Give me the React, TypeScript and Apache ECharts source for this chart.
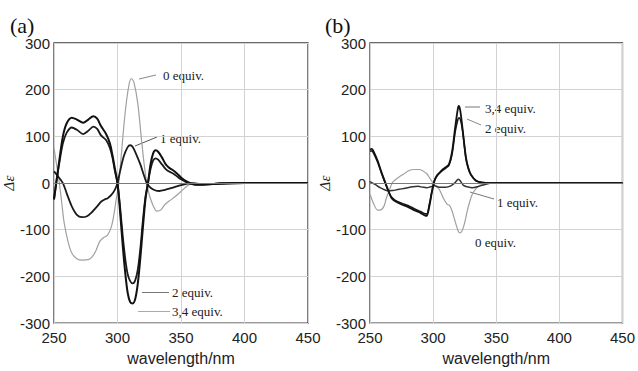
import React, { useEffect, useRef } from "react";
import * as echarts from "echarts";

// ---- Panel (a) : [wavelength (nm), Δε] ----
const aEquiv0 = [
  [250, 75], [252, 40], [254, 5], [256, -40], [258, -85], [261, -125], [264, -150], [268, -162],
  [272, -165], [277, -164], [280, -158], [283, -145], [286, -125], [289, -117], [292, -112],
  [295, -95], [297, -70], [299, -35], [301, 0], [303, 60], [306, 150], [309, 210], [311, 224],
  [313, 215], [316, 170], [319, 90], [321, 40], [323, 0], [325, -25], [328, -48], [331, -60],
  [334, -58], [337, -47], [341, -38], [345, -30], [350, -18], [355, -6], [358, -2], [362, -2],
  [370, -3], [380, -1], [400, 0], [450, 0],
];
const aEquiv1 = [
  [250, 25], [253, 15], [257, 0], [260, -22], [264, -50], [268, -68], [272, -73], [276, -71],
  [280, -62], [284, -50], [287, -40], [290, -35], [292, -33], [295, -26], [298, -14], [300, 0],
  [302, 25], [305, 58], [308, 77], [310, 81], [312, 77], [315, 60], [318, 40], [321, 15], [323, 0],
  [326, -10], [330, -16], [333, -17], [337, -15], [342, -11], [348, -6], [355, -1], [360, 0],
  [365, -2], [375, -2], [390, 0], [450, 0],
];
const aEquiv2 = [
  [250, -35], [251, -15], [252, 5], [254, 40], [257, 85], [260, 108], [264, 119], [268, 114],
  [273, 105], [277, 112], [281, 121], [284, 116], [287, 102], [291, 92], [294, 75], [296, 55],
  [298, 25], [300, 0], [302, -50], [304, -110], [306, -160], [308, -195], [310, -210], [312, -215],
  [314, -208], [316, -185], [318, -140], [320, -80], [322, -30], [324, 0], [326, 30], [328, 48],
  [330, 53], [332, 50], [335, 40], [338, 30], [341, 24], [344, 20], [347, 14], [350, 8], [354, 2],
  [358, -2], [362, -4], [370, -3], [380, -1], [400, 0], [450, 0],
];
const aEquiv34 = [
  [250, -35], [251, -15], [252, 5], [254, 45], [257, 100], [260, 128], [264, 140], [268, 136],
  [273, 129], [277, 136], [281, 143], [284, 138], [287, 122], [291, 105], [294, 85], [296, 60],
  [298, 30], [300, 0], [302, -60], [304, -130], [306, -190], [308, -235], [310, -255], [312, -258],
  [314, -248], [316, -215], [318, -160], [320, -95], [322, -35], [324, 0], [326, 40], [328, 63],
  [330, 70], [332, 67], [335, 55], [338, 40], [341, 32], [344, 27], [347, 20], [350, 12], [354, 4],
  [358, -1], [362, -3], [370, -3], [380, -1], [400, 0], [450, 0],
];

// ---- Panel (b) ----
const bEquiv0 = [
  [250, -24], [253, -45], [256, -58], [258, -58], [261, -50], [263, -32], [266, -10], [268, 2],
  [270, 7], [273, 13], [277, 20], [281, 27], [285, 29], [289, 29], [292, 26], [295, 20], [297, 12],
  [300, 0], [302, -6], [305, -14], [308, -32], [311, -45], [313, -48], [315, -60], [317, -78],
  [319, -96], [321, -107], [323, -102], [325, -85], [327, -60], [329, -40], [331, -24], [334, -12],
  [337, -5], [341, -1], [345, 0], [450, 0],
];
const bEquiv1 = [
  [250, 3], [254, -3], [258, -10], [262, -15], [265, -17], [268, -16], [272, -14], [278, -11],
  [284, -8], [288, -7], [292, -9], [295, -10], [298, -8], [301, -6], [305, -9], [310, -9],
  [314, -6], [317, 0], [320, 8], [322, 3], [324, -5], [327, -8], [331, -10], [335, -8], [341, -3],
  [347, 0], [450, 0],
];
const bEquiv2 = [
  [250, 68], [251.5, 69], [253, 63], [256, 45], [259, 22], [262, 0], [264.5, -17], [267, -30],
  [270, -37], [275, -43], [280, -48], [285, -55], [290, -61], [294, -66], [295, -66], [297, -46],
  [299, -18], [301, 5], [303, 15], [305, 21], [308, 28], [310, 32], [312.5, 38], [315, 62],
  [317.5, 110], [319.5, 135], [320.5, 140], [322, 132], [323.5, 108], [326, 52], [328, 30],
  [330, 17], [334, 5], [339, 1], [345, 0], [450, 0],
];
const bEquiv34 = [
  [250, 72], [251.5, 73], [253, 67], [256, 48], [259, 24], [262, 2], [264.5, -16], [267, -32],
  [270, -39], [275, -46], [280, -51], [285, -58], [290, -64], [294, -70], [295, -70], [297, -50],
  [299, -20], [301, 4], [303, 16], [305, 22], [308, 30], [310, 34], [312.5, 40], [315, 67],
  [317.5, 120], [319.5, 158], [320.3, 165], [321.5, 155], [323.5, 112], [326, 55], [328, 31],
  [330, 18], [334, 5], [339, 1], [345, 0], [450, 0],
];

const xTicks = { min: 250, max: 450, interval: 50 };
const yTicks = { min: -300, max: 300, interval: 100 };

const SANS = "'Liberation Sans', Arial, Helvetica, sans-serif";
const SERIF = "'Liberation Serif', 'Times New Roman', Times, serif";

export default function App() {
  const ref = useRef<HTMLDivElement>(null);
  useEffect(() => {
    const chart = echarts.init(ref.current!, null, { renderer: "svg" });

    const gridBase = {
      top: 43,
      width: 254,
      height: 287,
      show: true,
      borderColor: "#3a3a3a",
      borderWidth: 1.3,
      backgroundColor: "transparent",
    };

    const mkX = (i: number) => ({
      type: "value",
      gridIndex: i,
      ...xTicks,
      axisLine: { show: false },
      axisTick: { show: false },
      splitLine: { show: true, lineStyle: { color: "#d2d2d2", width: 1 } },
      axisLabel: { fontFamily: SANS, fontSize: 15, color: "#222", margin: 7 },
      name: "wavelength/nm",
      nameLocation: "middle",
      nameGap: 24,
      nameTextStyle: { fontFamily: SANS, fontSize: 16, color: "#222" },
    });
    const mkY = (i: number, gap: number) => ({
      type: "value",
      gridIndex: i,
      ...yTicks,
      axisLine: { show: false },
      axisTick: { show: false },
      splitLine: { show: true, lineStyle: { color: "#d2d2d2", width: 1 } },
      axisLabel: { fontFamily: SANS, fontSize: 15, color: "#222", margin: 4 },
      name: "Δε",
      nameLocation: "middle",
      nameGap: gap,
      nameRotate: 90,
      nameTextStyle: { fontFamily: SERIF, fontStyle: "italic", fontSize: 15, color: "#222" },
    });

    const zeroLine = {
      silent: true,
      symbol: "none",
      label: { show: false },
      lineStyle: { color: "#7a7a7a", width: 1, type: "solid" },
      data: [{ yAxis: 0 }],
    };

    const line = (
      data: number[][],
      idx: number,
      color: string,
      width: number,
      extra: any = {}
    ) => ({
      type: "line",
      xAxisIndex: idx,
      yAxisIndex: idx,
      data,
      showSymbol: false,
      symbol: "none",
      smooth: 0.3,
      lineStyle: { color, width },
      ...extra,
    });

    const txt = (x: number, y: number, t: string) => ({
      type: "text",
      x,
      y,
      style: {
        text: t,
        font: `13px ${SERIF}`,
        fill: "#222",
        textVerticalAlign: "middle",
        textAlign: "left",
      },
    });
    const lead = (x1: number, y1: number, x2: number, y2: number, c: string) => ({
      type: "line",
      shape: { x1, y1, x2, y2 },
      style: { stroke: c, lineWidth: 1 },
    });

    chart.setOption({
      animation: false,
      backgroundColor: "#fff",
      grid: [
        { ...gridBase, left: 54 },
        { ...gridBase, left: 370 },
      ],
      xAxis: [mkX(0), mkX(1)],
      yAxis: [mkY(0, 33), mkY(1, 34)],
      series: [
        line(aEquiv0, 0, "#a0a0a0", 1.2, { markLine: zeroLine }),
        line(aEquiv1, 0, "#1a1a1a", 1.8),
        line(aEquiv2, 0, "#1a1a1a", 1.8),
        line(aEquiv34, 0, "#111", 2),
        line(bEquiv0, 1, "#a0a0a0", 1.2, { markLine: zeroLine }),
        line(bEquiv1, 1, "#333", 1.5),
        line(bEquiv2, 1, "#1a1a1a", 1.6),
        line(bEquiv34, 1, "#111", 1.8),
      ],
      graphic: [
        {
          type: "text",
          x: 10,
          y: 25,
          style: { text: "(a)", font: `22px ${SERIF}`, fill: "#111", textVerticalAlign: "middle" },
        },
        {
          type: "text",
          x: 325,
          y: 25,
          style: { text: "(b)", font: `22px ${SERIF}`, fill: "#111", textVerticalAlign: "middle" },
        },
        // panel (a) annotations
        lead(139, 79, 156, 75, "#888"),
        txt(163, 75, "0 equiv."),
        lead(135, 146, 157, 137, "#555"),
        txt(160, 138, "1 equiv."),
        lead(142, 292.5, 169, 292.5, "#777"),
        txt(172, 292.5, "2 equiv."),
        lead(138, 311.5, 170, 311.5, "#aaa"),
        txt(172, 311.5, "3,4 equiv."),
        // panel (b) annotations
        lead(465, 107, 480, 107, "#777"),
        txt(485, 108, "3,4 equiv."),
        lead(467, 119, 481, 125, "#888"),
        txt(485, 128, "2 equiv."),
        lead(470, 192, 494, 199, "#777"),
        txt(497, 202, "1 equiv."),
        txt(475, 242, "0 equiv."),
      ],
    });
    return () => chart.dispose();
  }, []);
  return (
    <div
      ref={ref}
      style={{ position: "fixed", left: 0, top: 0, width: 638, height: 371, background: "#fff" }}
    />
  );
}
